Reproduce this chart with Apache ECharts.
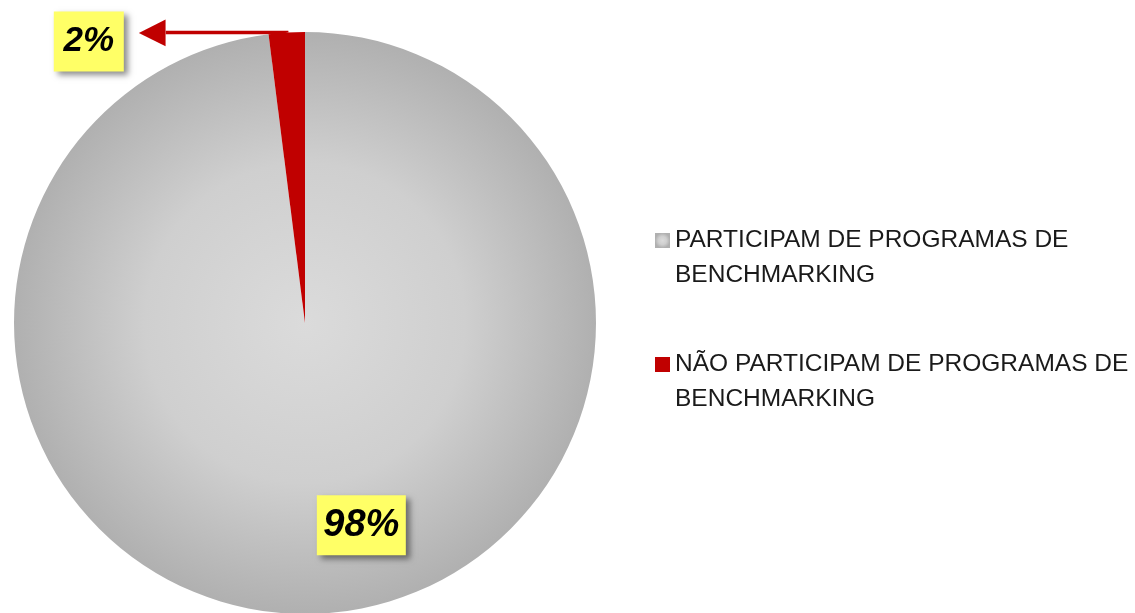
<!DOCTYPE html>
<html>
<head>
<meta charset="utf-8">
<script src="https://cdn.jsdelivr.net/npm/echarts@6/dist/echarts.min.js"></script>
<style>
  html, body { margin: 0; padding: 0; background: #ffffff; }
  #chart { width: 1135px; height: 613px; }
</style>
</head>
<body>
<div id="chart"></div>
<script>
// Survey result: share of respondents taking part in benchmarking programmes
const categories = [
  'PARTICIPAM DE PROGRAMAS DE BENCHMARKING',
  'NÃO PARTICIPAM DE PROGRAMAS DE BENCHMARKING'
];
const legendLines = [
  ['PARTICIPAM DE PROGRAMAS DE', 'BENCHMARKING'],
  ['NÃO PARTICIPAM DE PROGRAMAS DE', 'BENCHMARKING']
];
const values = [98, 2];

const sliceFills = [
  {
    type: 'radial', x: 0.5, y: 0.5, r: 0.5,
    colorStops: [
      { offset: 0, color: '#dbdbdb' },
      { offset: 0.55, color: '#cfcfcf' },
      { offset: 1, color: '#b0b0b0' }
    ]
  },
  '#c00000'
];

const labelFont = {
  fontFamily: 'Liberation Sans',
  fontStyle: 'italic',
  fontWeight: 'bold',
  color: '#000000',
  backgroundColor: '#ffff66',
  align: 'center',
  shadowColor: 'rgba(0,0,0,0.45)',
  shadowBlur: 6,
  shadowOffsetX: 4,
  shadowOffsetY: 4
};

const pctText = p => Math.round(p.percent) + '%';

// big share: boxed label inside the slice
const insideLabel = {
  show: true,
  position: 'inside',
  formatter: p => '{big|' + pctText(p) + '}',
  rich: {
    big: Object.assign({}, labelFont, { fontSize: 38, width: 89, height: 60 })
  }
};

// small share: boxed label outside, reached by an arrow
const outsideLabel = {
  show: true,
  position: 'outside',
  distanceToLabelLine: 0,
  formatter: p => '{box|' + pctText(p) + '}{gap|}{arrow|◀}',
  rich: {
    box: Object.assign({}, labelFont, {
      fontSize: 35, width: 70, height: 60, lineHeight: 78, verticalAlign: 'bottom'
    }),
    gap: { width: 15, lineHeight: 78 },
    arrow: {
      fontFamily: 'DejaVu Sans', fontSize: 35, color: '#c00000',
      lineHeight: 78, verticalAlign: 'middle'
    }
  }
};

const chart = echarts.init(document.getElementById('chart'), null, { renderer: 'canvas' });

chart.setOption({
  animation: false,
  backgroundColor: '#ffffff',
  legend: {
    orient: 'vertical',
    left: 655,
    top: 188,
    padding: 0,
    icon: 'rect',
    itemWidth: 15,
    itemHeight: 15,
    itemGap: 19,
    selectedMode: false,
    data: categories,
    formatter: name => '\n' + legendLines[categories.indexOf(name)].join('\n'),
    textStyle: {
      fontFamily: 'Liberation Sans',
      fontSize: 24.5,
      lineHeight: 35,
      color: '#1a1a1a'
    }
  },
  series: [{
    type: 'pie',
    center: [305, 323],
    radius: 291,
    startAngle: 90,
    clockwise: true,
    avoidLabelOverlap: false,
    silent: true,
    itemStyle: { borderWidth: 0 },
    labelLayout: params => (params.dataIndex === 0 ? { dx: 47, dy: 54 } : {}),
    data: values.map((v, i) => ({
      name: categories[i],
      value: v,
      itemStyle: { color: sliceFills[i] },
      label: i === 0 ? insideLabel : outsideLabel,
      labelLine: i === 0 ? { show: false } : {
        show: true,
        length: 0.1,
        length2: 121,
        smooth: false,
        lineStyle: { color: '#c00000', width: 3.5 }
      }
    }))
  }]
});
</script>
</body>
</html>
